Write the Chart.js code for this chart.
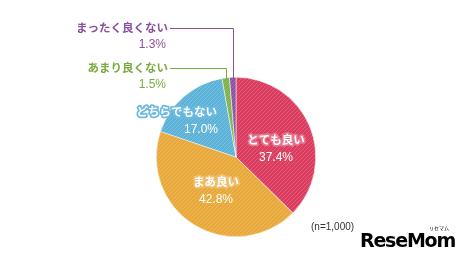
<!DOCTYPE html>
<html>
<head>
<meta charset="utf-8">
<script src="https://cdn.jsdelivr.net/npm/chart.js@4"></script>
<style>
  body { margin: 0; background: #fff; }
  #wrap { position: relative; width: 470px; height: 263px; }
  #note { position: absolute; left: 311px; top: 221px; font: 10px "Liberation Sans", Arial, sans-serif; color: #333; }
  #logo { position: absolute; left: 360px; top: 229px; font: 900 19px "DejaVu Sans", sans-serif; color: #000; letter-spacing: -1.2px; }
  #logo small { position: absolute; right: 6px; top: -5px; font: 5px "Noto Sans CJK JP"; letter-spacing: 0; }
</style>
</head>
<body>
<div id="wrap">
  <canvas id="pieChart" width="470" height="263"></canvas>
  <div id="note">(n=1,000)</div>
  <div id="logo">ReseMom<small>リセマム</small></div>
</div>
<script>
const categories = ['とても良い', 'まあ良い', 'どちらでもない', 'あまり良くない', 'まったく良くない'];
const shares = [37.4, 42.8, 17.0, 1.5, 1.3];
const sliceColors = ['#db3b5f', '#e8a83a', '#5cb2d8', '#7db348', '#8b53a3'];
const haloColors = ['#e8768f', '#eebf6e', '#6cbade'];

// striped fill like the original
function stripes(color) {
    const c = document.createElement('canvas');
    c.width = 4; c.height = 4;
    const g = c.getContext('2d');
    g.fillStyle = color;
    g.fillRect(0, 0, 4, 4);
    g.strokeStyle = 'rgba(255,255,255,0.18)';
    g.lineWidth = 1;
    g.beginPath();
    g.moveTo(0, 4); g.lineTo(4, 0);
    g.moveTo(-1, 1); g.lineTo(1, -1);
    g.moveTo(3, 5); g.lineTo(5, 3);
    g.stroke();
    return g.createPattern(c, 'repeat');
}

const jpFont = 'bold 11.5px "Noto Sans CJK JP", sans-serif';
const numFont = '12px "Liberation Sans", Arial, sans-serif';

// inside labels: offset from pie centre (dx, dy) and alignment
const insideLabels = {
    0: { dx: 40, dy: -8, align: 'center' },
    1: { dx: -20, dy: 34, align: 'center' },
    2: { dx: -19, dy: -36, align: 'right' }
};
// outside labels: text anchor and leader elbow
const outsideLabels = {
    3: { x: 168, y: 68, elbow: 226, color: '#78ab3e' },
    4: { x: 168, y: 28, elbow: 233, color: '#8a4f9e' }
};

const labelPlugin = {
    id: 'labels',
    afterDatasetsDraw(chart) {
        const ctx = chart.ctx;
        const arcs = chart.getDatasetMeta(0).data;
        ctx.save();
        ctx.textBaseline = 'middle';
        arcs.forEach((arc, i) => {
            const cx = arc.x, cy = arc.y;
            const txt = shares[i].toFixed(1) + '%';
            if (insideLabels[i]) {
                const p = insideLabels[i];
                const x = cx + p.dx, y = cy + p.dy;
                ctx.textAlign = p.align;
                ctx.font = jpFont;
                ctx.lineJoin = 'round';
                ctx.strokeStyle = haloColors[i];
                ctx.lineWidth = 3.5;
                ctx.strokeText(categories[i], x, y - 9);
                ctx.fillStyle = '#fff';
                ctx.fillText(categories[i], x, y - 9);
                ctx.font = numFont;
                ctx.fillText(txt, x + (p.align === 'right' ? 1 : 0), y + 9);
            } else if (outsideLabels[i]) {
                const p = outsideLabels[i];
                const mid = (arc.startAngle + arc.endAngle) / 2;
                const ey = cy + Math.sin(mid) * arc.outerRadius;
                ctx.strokeStyle = p.color;
                ctx.lineWidth = 1;
                ctx.beginPath();
                ctx.moveTo(p.x + 2, p.y + 0.5);
                ctx.lineTo(p.elbow + 0.5, p.y + 0.5);
                ctx.lineTo(p.elbow + 0.5, ey + 2);
                ctx.stroke();
                ctx.fillStyle = p.color;
                ctx.textAlign = 'right';
                ctx.font = jpFont;
                ctx.fillText(categories[i], p.x, p.y);
                ctx.font = numFont;
                ctx.fillText(txt, p.x - 2, p.y + 17);
            }
        });
        ctx.restore();
    }
};

new Chart(document.getElementById('pieChart'), {
    type: 'pie',
    data: {
        labels: categories,
        datasets: [{
            data: shares,
            backgroundColor: sliceColors.map(stripes),
            borderColor: '#fff',
            borderWidth: 0.5
        }]
    },
    options: {
        responsive: false,
        animation: false,
        layout: { padding: { top: 77, bottom: 26, left: 156, right: 154 } },
        plugins: {
            legend: { display: false },
            tooltip: { enabled: false }
        }
    },
    plugins: [labelPlugin]
});
</script>
</body>
</html>
